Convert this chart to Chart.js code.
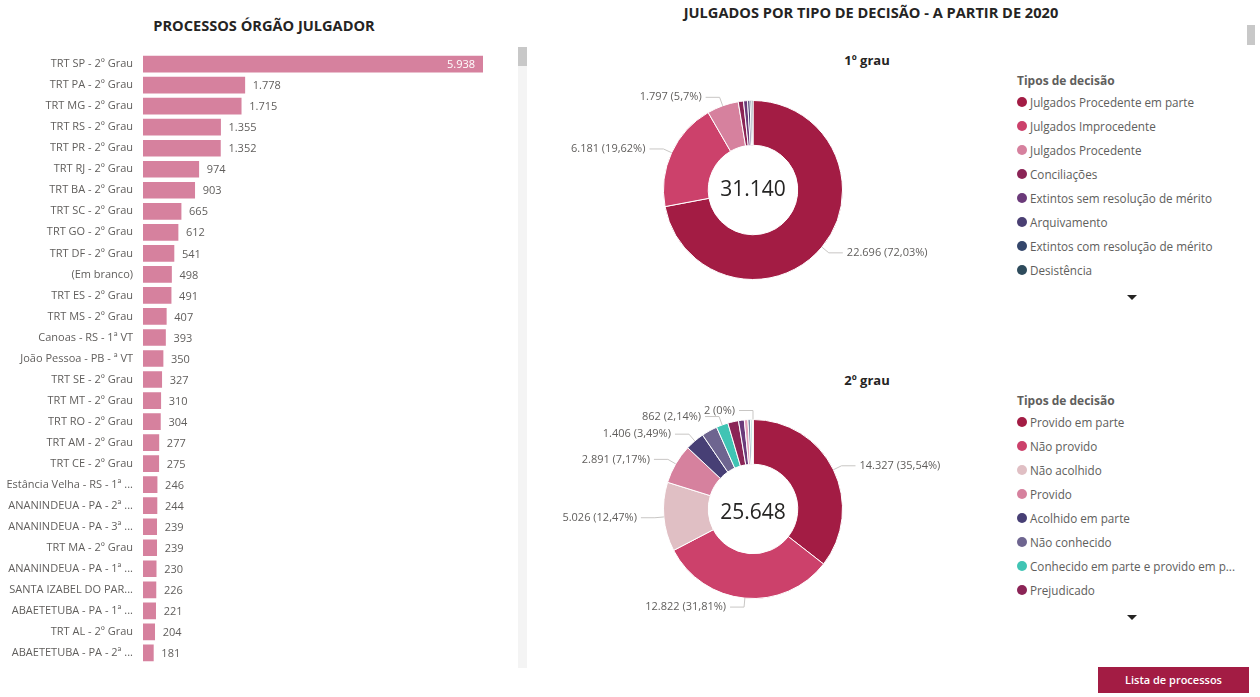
<!DOCTYPE html>
<html lang="pt-BR">
<head>
<meta charset="utf-8">
<title>Processos e julgados</title>
<script src="https://cdn.jsdelivr.net/npm/chart.js@4.4.1/dist/chart.umd.min.js"></script>
<style>
  body {
    margin: 0;
    width: 1260px;
    height: 697px;
    background: #fff;
    font-family: "Open Sans", sans-serif;
    position: relative;
    overflow: hidden;
  }
  .titulo {
    position: absolute;
    font-weight: 700;
    font-size: 14.6px;
    color: #252423;
    white-space: nowrap;
    transform: translate(-50%, -50%);
  }
  .subtitulo {
    position: absolute;
    font-weight: 700;
    font-size: 13px;
    color: #252423;
    transform: translate(-50%, -50%);
  }
  .box { position: absolute; }
  .legenda {
    position: absolute;
    left: 1017px;
    font-size: 11.7px;
    color: #605e5c;
  }
  .legenda h4 {
    margin: 0;
    font-size: 12px;
    font-weight: 700;
    height: 18px;
    line-height: 18px;
  }
  .legenda .item {
    height: 24px;
    line-height: 24px;
    white-space: nowrap;
    display: flex;
    align-items: center;
  }
  .legenda .dot {
    width: 10px;
    height: 10px;
    border-radius: 50%;
    margin-right: 3px;
    flex: none;
  }
  .seta {
    position: absolute;
    width: 0; height: 0;
    border-left: 5px solid transparent;
    border-right: 5px solid transparent;
    border-top: 5px solid #252423;
  }
  .scroll-track { position: absolute; background: #f4f4f4; }
  .scroll-thumb { position: absolute; background: #c8c8c8; }
  .botao {
    position: absolute;
    left: 1098px; top: 667px;
    width: 151px; height: 26px;
    background: #a31c44;
    color: #fff;
    font-size: 11px;
    font-weight: 600;
    text-align: center;
    line-height: 26px;
  }
</style>
</head>
<body>

<div class="titulo" style="left:264px; top:25px;">PROCESSOS ÓRGÃO JULGADOR</div>
<div class="titulo" style="left:871px; top:12px;">JULGADOS POR TIPO DE DECISÃO - A PARTIR DE 2020</div>

<div class="box" style="left:0; top:37px; width:520px; height:643px;"><canvas id="barras"></canvas></div>
<div class="scroll-track" style="left:518px; top:47px; width:9px; height:621px;"></div>
<div class="scroll-thumb" style="left:518px; top:47px; width:9px; height:19px;"></div>
<div class="scroll-thumb" style="left:1247px; top:25px; width:8px; height:20px;"></div>

<div class="subtitulo" style="left:867px; top:60px;">1º grau</div>
<div class="box" style="left:540px; top:45px; width:460px; height:290px;"><canvas id="grau1"></canvas></div>
<div class="legenda" id="legenda1" style="top:72px;"></div>
<div class="seta" style="left:1127px; top:295px;"></div>

<div class="subtitulo" style="left:867px; top:380px;">2º grau</div>
<div class="box" style="left:540px; top:365px; width:460px; height:290px;"><canvas id="grau2"></canvas></div>
<div class="legenda" id="legenda2" style="top:392px;"></div>
<div class="seta" style="left:1127px; top:615px;"></div>

<div class="botao">Lista de processos</div>

<script>
// Processos por órgão julgador
const orgaos = [
    'TRT SP - 2º Grau', 'TRT PA - 2º Grau', 'TRT MG - 2º Grau', 'TRT RS - 2º Grau',
    'TRT PR - 2º Grau', 'TRT RJ - 2º Grau', 'TRT BA - 2º Grau', 'TRT SC - 2º Grau',
    'TRT GO - 2º Grau', 'TRT DF - 2º Grau', '(Em branco)', 'TRT ES - 2º Grau',
    'TRT MS - 2º Grau', 'Canoas - RS - 1ª VT', 'João Pessoa - PB - ª VT', 'TRT SE - 2º Grau',
    'TRT MT - 2º Grau', 'TRT RO - 2º Grau', 'TRT AM - 2º Grau', 'TRT CE - 2º Grau',
    'Estância Velha - RS - 1ª ...', 'ANANINDEUA - PA - 2ª ...', 'ANANINDEUA - PA - 3ª ...',
    'TRT MA - 2º Grau', 'ANANINDEUA - PA - 1ª ...', 'SANTA IZABEL DO PAR...',
    'ABAETETUBA - PA - 1ª ...', 'TRT AL - 2º Grau', 'ABAETETUBA - PA - 2ª ...'
];
const processos = [
    5938, 1778, 1715, 1355, 1352, 974, 903, 665, 612, 541, 498, 491, 407, 393, 350,
    327, 310, 304, 277, 275, 246, 244, 239, 239, 230, 226, 221, 204, 181
];

// 1º grau
const tipos1 = [
    'Julgados Procedente em parte', 'Julgados Improcedente', 'Julgados Procedente',
    'Conciliações', 'Extintos sem resolução de mérito', 'Arquivamento',
    'Extintos com resolução de mérito', 'Desistência'
];
const julgados1 = [22696, 6181, 1797, 300, 230, 140, 100, 65];
const total1 = 31140;
const rotulos1 = [0, 1, 2];

// 2º grau
const tipos2 = [
    'Provido em parte', 'Não provido', 'Não acolhido', 'Provido', 'Acolhido em parte',
    'Não conhecido', 'Conhecido em parte e provido em p...', 'Prejudicado',
    'Conhecido em parte e não provido', 'Acolhido', 'Homologado', 'Anulado',
    'Rejeitado', 'Deserto'
];
const julgados2 = [14327, 12822, 5026, 2891, 1406, 1150, 862, 780, 420, 260, 180, 110, 74, 2];
const total2 = 25648;
const rotulos2 = [0, 1, 2, 3, 4, 6, 13];

// Paletas
const corBarra = '#d6819e';
const cores1 = ['#a31c44', '#cc416b', '#d6819e', '#8b2456', '#6b3a7a', '#4a3f73', '#34466b', '#2e4b5c'];
const cores2 = ['#a31c44', '#cc416b', '#e0bfc4', '#d6819e', '#473f75', '#6e6590', '#40c4b4',
    '#8b2456', '#6b3a7a', '#e3a1bb', '#7c8aa5', '#2fa6a0', '#e8a06a', '#9a9a9a'];

const fonte = '"Open Sans", sans-serif';

function formatar(v) {
    return String(v).replace(/\B(?=(\d{3})+(?!\d))/g, '.');
}

function percentual(v, soma) {
    let p = (v / soma * 100).toFixed(2);
    p = p.replace(/\.?0+$/, '');
    return p.replace('.', ',') + '%';
}

// Rótulos de valor nas barras
const rotuloBarras = {
    id: 'rotuloBarras',
    afterDatasetsDraw(chart) {
        const ctx = chart.ctx;
        const meta = chart.getDatasetMeta(0);
        const valores = chart.data.datasets[0].data;
        ctx.save();
        ctx.font = '11px ' + fonte;
        ctx.textBaseline = 'middle';
        meta.data.forEach((bar, i) => {
            const txt = formatar(valores[i]);
            const w = ctx.measureText(txt).width;
            if (bar.x + 8 + w > chart.chartArea.right) {
                ctx.fillStyle = '#ffffff';
                ctx.textAlign = 'right';
                ctx.fillText(txt, bar.x - 8, bar.y + 1);
            } else {
                ctx.fillStyle = '#605e5c';
                ctx.textAlign = 'left';
                ctx.fillText(txt, bar.x + 8, bar.y + 1);
            }
        });
        ctx.restore();
    }
};

// Rótulos externos e total no centro das roscas
const rotuloRosca = {
    id: 'rotuloRosca',
    afterDatasetsDraw(chart, args, opts) {
        const ctx = chart.ctx;
        const meta = chart.getDatasetMeta(0);
        const dados = chart.data.datasets[0].data;
        const soma = dados.reduce((a, b) => a + b, 0);
        ctx.save();
        ctx.font = '11px ' + fonte;
        ctx.textBaseline = 'middle';
        ctx.strokeStyle = '#c8c6c4';
        ctx.lineWidth = 1;
        opts.indices.forEach(i => {
            const arc = meta.data[i];
            const ang = (arc.startAngle + arc.endAngle) / 2;
            const r = arc.outerRadius;
            const x0 = arc.x + Math.cos(ang) * r;
            const y0 = arc.y + Math.sin(ang) * r;
            const x1 = arc.x + Math.cos(ang) * (r + 9);
            const y1 = arc.y + Math.sin(ang) * (r + 9);
            const dir = Math.cos(ang) >= 0 ? 1 : -1;
            const x2 = x1 + dir * 14;
            ctx.beginPath();
            ctx.moveTo(x0, y0);
            ctx.lineTo(x1, y1);
            ctx.lineTo(x2, y1);
            ctx.stroke();
            ctx.fillStyle = '#605e5c';
            ctx.textAlign = dir > 0 ? 'left' : 'right';
            ctx.fillText(formatar(dados[i]) + ' (' + percentual(dados[i], soma) + ')', x2 + dir * 4, y1);
        });
        const a0 = meta.data[0];
        ctx.font = '21px ' + fonte;
        ctx.fillStyle = '#252423';
        ctx.textAlign = 'center';
        ctx.fillText(formatar(opts.total), a0.x, a0.y + opts.ajuste);
        ctx.restore();
    }
};

function criarBarras() {
    new Chart(document.getElementById('barras'), {
        type: 'bar',
        data: {
            labels: orgaos,
            datasets: [{
                data: processos,
                backgroundColor: corBarra,
                barThickness: 16
            }]
        },
        options: {
            indexAxis: 'y',
            responsive: true,
            maintainAspectRatio: false,
            animation: false,
            layout: { padding: { top: 8, bottom: 8, right: 37 } },
            plugins: { legend: { display: false }, tooltip: { enabled: false } },
            scales: {
                x: { display: false, min: 0, max: 5938 },
                y: {
                    grid: { display: false, drawTicks: false },
                    border: { display: false },
                    afterFit: (scale) => { scale.width = 143; },
                    ticks: {
                        padding: 10,
                        color: '#605e5c',
                        font: { family: fonte, size: 11 }
                    }
                }
            }
        },
        plugins: [rotuloBarras]
    });
}

function criarRosca(id, tipos, valores, cores, total, indices, padding, ajuste) {
    new Chart(document.getElementById(id), {
        type: 'doughnut',
        data: {
            labels: tipos,
            datasets: [{
                data: valores,
                backgroundColor: cores,
                borderColor: '#ffffff',
                borderWidth: 1
            }]
        },
        options: {
            responsive: true,
            maintainAspectRatio: false,
            animation: false,
            cutout: '50%',
            layout: { padding: padding },
            plugins: {
                legend: { display: false },
                tooltip: { enabled: false },
                rotuloRosca: { indices: indices, total: total, ajuste: ajuste }
            }
        },
        plugins: [rotuloRosca]
    });
}

function criarLegenda(id, tipos, cores) {
    const el = document.getElementById(id);
    let html = '<h4>Tipos de decisão</h4>';
    tipos.slice(0, 8).forEach((t, i) => {
        html += `<div class="item"><span class="dot" style="background:${cores[i]}"></span>${t}</div>`;
    });
    el.innerHTML = html;
}

criarBarras();
criarRosca('grau1', tipos1, julgados1, cores1, total1, rotulos1,
    { left: 123, right: 157, top: 55, bottom: 55 }, 0);
criarRosca('grau2', tipos2, julgados2, cores2, total2, rotulos2,
    { left: 123, right: 157, top: 54, bottom: 56 }, 4);
criarLegenda('legenda1', tipos1, cores1);
criarLegenda('legenda2', tipos2, cores2);
</script>
</body>
</html>
